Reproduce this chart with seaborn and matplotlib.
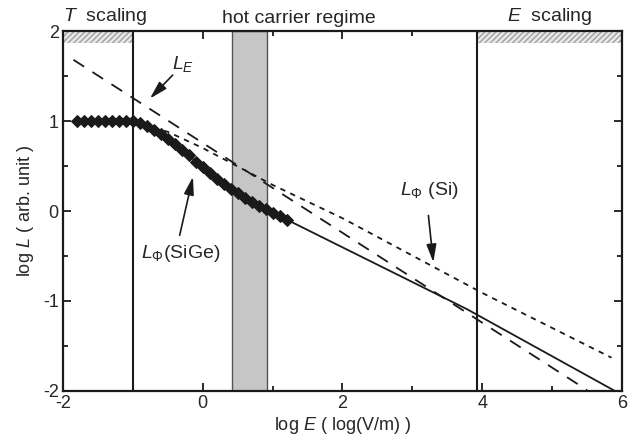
import numpy as np
import pandas as pd
import matplotlib
matplotlib.use("Agg")
import matplotlib.pyplot as plt
import seaborn as sns
from matplotlib.ticker import MultipleLocator
from matplotlib.patches import Rectangle

sns.set_theme(style="white")
plt.rcParams['font.family'] = ['Liberation Sans', 'DejaVu Sans']
plt.rcParams['mathtext.fontset'] = 'custom'
plt.rcParams['mathtext.rm'] = 'Liberation Sans'
plt.rcParams['mathtext.it'] = 'Liberation Sans:italic'
plt.rcParams['axes.unicode_minus'] = False

# ---- data ----
sige_x = [-1.8, -1.7, -1.6, -1.5, -1.4, -1.3, -1.2, -1.1, -1.0, -0.9, -0.8, -0.7,
          -0.6, -0.5, -0.4, -0.3, -0.2, -0.1, 0.0, 0.1, 0.2, 0.3, 0.4, 0.5, 0.6,
          0.7, 0.8, 0.9, 1.0, 1.1, 1.2]
sige_y = [1.0, 1.0, 1.0, 1.0, 1.0, 1.0, 1.0, 1.0, 0.995, 0.98, 0.95, 0.905,
          0.855, 0.795, 0.74, 0.68, 0.62, 0.55, 0.49, 0.425, 0.36, 0.30, 0.25, 0.195, 0.15,
          0.105, 0.06, 0.02, -0.02, -0.055, -0.095]
fit_x = [1.2, 3.78, 5.9]
fit_y = [-0.095, -1.09, -2.0]
le_x = [-1.85, 5.5]
le_y = [1.68, -1.99]
si_x = [-0.85, -0.5, 0.0, 1.0, 2.0, 4.0, 5.85]
si_y = [0.96, 0.88, 0.70, 0.29, -0.08, -0.91, -1.63]
band_lo, band_hi = 0.42, 0.92
t_edge, e_edge = -1.0, 3.93

fig = plt.figure(figsize=(6.31, 4.47), dpi=100)
ax = fig.add_axes([0.0998, 0.1253, 0.8859, 0.8053])

# shaded hot-carrier band
ax.axvspan(band_lo, band_hi, facecolor='#c6c6c6', edgecolor='#555555', lw=1.0, zorder=1)
# hatched bars at top
for x0, x1 in [(-2, t_edge), (e_edge, 6)]:
    ax.add_patch(Rectangle((x0, 1.87), x1 - x0, 0.13, facecolor='#e8e8e8',
                           edgecolor='#a0a0a0', hatch='//////', lw=0, zorder=1))
# vertical boundaries
ax.axvline(t_edge, color='k', lw=1.5, zorder=2)
ax.axvline(e_edge, color='k', lw=1.5, zorder=2)

sns.lineplot(x=le_x, y=le_y, ax=ax, color='k', lw=1.3, zorder=3).lines[-1].set_dashes([7, 5.5])
sns.lineplot(x=si_x, y=si_y, ax=ax, color='k', lw=1.3, zorder=3).lines[-1].set_dashes([3, 3])
sns.lineplot(x=fit_x, y=fit_y, ax=ax, color='k', lw=1.3, zorder=3)
sns.lineplot(x=sige_x, y=sige_y, ax=ax, color='k', lw=1.2, marker='D',
             markersize=6, markeredgecolor='k', zorder=4)

ax.set_xlim(-2, 6)
ax.set_ylim(-2, 2)
ax.xaxis.set_major_locator(MultipleLocator(2))
ax.xaxis.set_minor_locator(MultipleLocator(1))
ax.yaxis.set_major_locator(MultipleLocator(1))
ax.yaxis.set_minor_locator(MultipleLocator(0.5))
ax.tick_params(which='both', direction='in', top=True, right=True, bottom=True, left=True,
               color='k', width=1.3, labelsize=13, pad=3)
ax.tick_params(which='major', length=6)
ax.tick_params(which='minor', length=3.5)
for s in ax.spines.values():
    s.set_color('k')
    s.set_linewidth(1.6)

ax.set_xlabel(r'log $E$ ( log(V/m) )', fontsize=13, labelpad=2)
ax.set_ylabel(r'log $L$ ( arb. unit )', fontsize=13, labelpad=5)

# top region labels
ax.text(-2.0, 2.04, r'$T$  scaling', fontsize=14, ha='left', va='bottom')
ax.text(1.376, 2.04, 'hot carrier regime', fontsize=14, ha='center', va='bottom')
ax.text(4.96, 2.04, r'$E$  scaling', fontsize=14, ha='center', va='bottom')

arrow = dict(arrowstyle='-|>,head_length=0.9,head_width=0.25', color='k', lw=1.2,
             shrinkA=0, shrinkB=0)
ax.annotate('', xy=(-0.755, 1.25), xytext=(-0.43, 1.51), arrowprops=arrow)
ax.text(-0.28, 1.63, r'$L_{E}$', fontsize=14, ha='center', va='center')

ax.annotate('', xy=(-0.14, 0.38), xytext=(-0.33, -0.27), arrowprops=arrow)
ax.text(-0.31, -0.47, r'$L_{\mathit{Φ}}$(SiGe)', fontsize=14, ha='center', va='center')

ax.annotate('', xy=(3.30, -0.57), xytext=(3.23, -0.05), arrowprops=arrow)
ax.text(3.25, 0.23, r'$L_{\mathit{Φ}}$ (Si)', fontsize=14, ha='center', va='center')

fig.savefig('out.png', dpi=100)
